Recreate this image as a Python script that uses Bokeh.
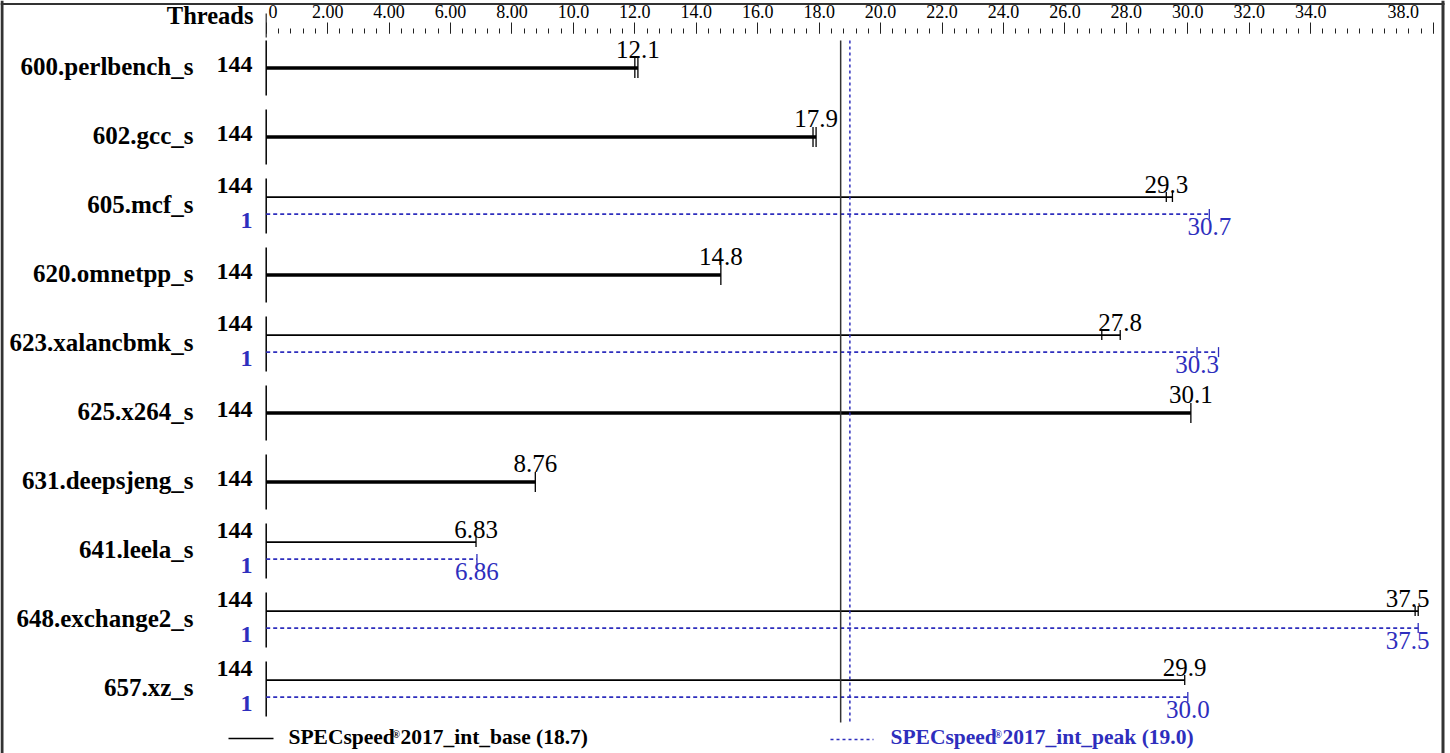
from bokeh.plotting import figure
from bokeh.models import Range1d, LinearAxis, FixedTicker
from bokeh.core.properties import value
from bokeh.embed import file_html
from bokeh.resources import INLINE

# ---------------- data ----------------
benchmarks = ["600.perlbench_s", "602.gcc_s", "605.mcf_s", "620.omnetpp_s",
              "623.xalancbmk_s", "625.x264_s", "631.deepsjeng_s", "641.leela_s",
              "648.exchange2_s", "657.xz_s"]
base_threads = [144, 144, 144, 144, 144, 144, 144, 144, 144, 144]
peak_threads = [None, None, 1, None, 1, None, None, 1, 1, 1]
base_score = [12.1, 17.9, 29.3, 14.8, 27.8, 30.1, 8.76, 6.83, 37.5, 29.9]
base_label = ["12.1", "17.9", "29.3", "14.8", "27.8", "30.1", "8.76", "6.83", "37.5", "29.9"]
peak_score = [None, None, 30.7, None, 30.3, None, None, 6.86, 37.5, 30.0]
peak_label = [None, None, "30.7", None, "30.3", None, None, "6.86", "37.5", "30.0"]
base_runs = [[12.0, 12.1, 12.1], [17.8, 17.9, 17.9], [29.3, 29.3, 29.5],
             [14.8, 14.8, 14.8], [27.2, 27.8, 27.8], [30.1, 30.1, 30.1],
             [8.76, 8.76, 8.76], [6.83, 6.83, 6.83], [37.4, 37.5, 37.5],
             [29.9, 29.9, 29.9]]
peak_runs = [None, None, [30.7, 30.7, 30.7], None, [30.3, 30.3, 31.0], None,
             None, [6.86, 6.86, 6.86], [37.5, 37.5, 37.5], [30.0, 30.0, 30.0]]
base_mean = 18.7
peak_mean = 19.0
base_legend = "2017_int_base (18.7)"
peak_legend = "2017_int_peak (19.0)"
tick_values = [0, 2, 4, 6, 8, 10, 12, 14, 16, 18, 20, 22, 24, 26, 28, 30, 32, 34, 38]
tick_labels = ["0", "2.00", "4.00", "6.00", "8.00", "10.0", "12.0", "14.0", "16.0",
               "18.0", "20.0", "22.0", "24.0", "26.0", "28.0", "30.0", "32.0",
               "34.0", "38.0"]
minor_step = 0.4

# ---------------- layout helpers ----------------
W, H = 1450, 753
X0_PX, PX_PER_UNIT = 265.7, 30.72
ROW0_PX, ROW_PX = 67.6, 69.0
BLUE = "#2e2ebd"
FONT = value("Liberation Serif")
SHIFT = 0.38  # em correction for the renderer's alphabetic baseline
NB = "\u00a0"


def xv(px):
    return (px - X0_PX) / PX_PER_UNIT


def yr(px):
    return (px - ROW0_PX) / ROW_PX


def dy(px):
    return px / ROW_PX


def tb(px_offset, size):
    """row-unit offset for a text baseline px_offset below a row centre"""
    return dy(px_offset - SHIFT * size)


p = figure(width=W, height=H, x_range=Range1d(xv(0), xv(W)),
           y_range=Range1d(yr(H), yr(0)), x_axis_type=None, y_axis_type=None,
           toolbar_location=None, output_backend="svg", min_border=0,
           outline_line_color=None)
p.background_fill_color = "white"
p.border_fill_color = "white"

# top axis (first label sits right of the zero line, last one left of its tick)
shown_labels = list(tick_labels)
shown_labels[0] = NB * 3 + shown_labels[0]
shown_labels[-1] = shown_labels[-1] + NB * 7
minor_vals = [round(k * minor_step, 2) for k in range(int(38 / minor_step) + 1)]
ax = LinearAxis(ticker=FixedTicker(ticks=tick_values, minor_ticks=minor_vals),
                fixed_location=yr(33),
                major_label_overrides={t: l for t, l in zip(tick_values, shown_labels)},
                axis_line_color=None, major_tick_out=11, major_tick_in=0,
                minor_tick_out=5, minor_tick_in=0,
                major_tick_line_color="#222", minor_tick_line_color="#222",
                major_tick_line_width=1, minor_tick_line_width=1,
                major_label_standoff=1, major_label_text_font="Liberation Serif",
                major_label_text_font_size="18px", major_label_text_color="black")
p.add_layout(ax, "above")
p.segment(x0=[0], y0=[yr(13)], x1=[0], y1=[yr(37)], line_color="#222", line_width=1.2)

# frame border
p.segment(x0=[xv(1.5), xv(0), xv(1442.5)], y0=[yr(0), yr(3.5), yr(0)],
          x1=[xv(1.5), xv(1444), xv(1442.5)], y1=[yr(H), yr(3.5), yr(H)],
          line_color="#333", line_width=[3, 2, 3])

# "Threads" header
p.text(x=[xv(253)], y=[yr(24 - SHIFT * 24.5)], text=["Threads"], text_font=FONT,
       text_font_style="bold", text_font_size="24.5px", text_align="right",
       text_baseline="alphabetic", text_color="black")

n = len(benchmarks)
rows = list(range(n))

# per-row axis segments
p.segment(x0=[0] * n, y0=[r - dy(27.5) for r in rows], x1=[0] * n,
          y1=[r + dy(27.5) for r in rows], line_color="black", line_width=1.5)

# benchmark names
p.text(x=[xv(193)] * n, y=[r + tb(8, 25) for r in rows], text=benchmarks, text_font=FONT,
       text_font_style="bold", text_font_size="25px", text_align="right",
       text_baseline="alphabetic", text_color="black")

single = [i for i in rows if peak_score[i] is None]
double = [i for i in rows if peak_score[i] is not None]

# thread counts
tx, ty, tt = [], [], []
for i in rows:
    tx.append(xv(252))
    ty.append(i + (tb(5.5, 24) if i in single else tb(-11, 24)))
    tt.append(str(base_threads[i]))
p.text(x=tx, y=ty, text=tt, text_font=FONT, text_font_style="bold",
       text_font_size="24px", text_align="right", text_baseline="alphabetic",
       text_color="black")
p.text(x=[xv(252)] * len(double), y=[i + tb(24, 24) for i in double],
       text=[str(peak_threads[i]) for i in double], text_font=FONT,
       text_font_style="bold", text_font_size="24px", text_align="right",
       text_baseline="alphabetic", text_color=BLUE)

# single-row bars (base == peak)
p.segment(x0=[0] * len(single), y0=[float(i) for i in single],
          x1=[base_score[i] for i in single], y1=[float(i) for i in single],
          line_color="black", line_width=3.5)
# double rows
p.segment(x0=[0] * len(double), y0=[i - dy(9) for i in double],
          x1=[max(base_runs[i]) for i in double], y1=[i - dy(9) for i in double],
          line_color="black", line_width=1.8)
p.segment(x0=[0] * len(double), y0=[i + dy(8) for i in double],
          x1=[max(peak_runs[i]) for i in double], y1=[i + dy(8) for i in double],
          line_color=BLUE, line_width=1.6, line_dash="4 3")

# run tick marks
bx0, by0, by1 = [], [], []
for i in rows:
    runs = base_runs[i]
    for v in sorted(set([min(runs), max(runs)])):
        bx0.append(v)
        if i in single:
            by0.append(i - dy(10)); by1.append(i + dy(10))
        else:
            by0.append(i - dy(9) - dy(5)); by1.append(i - dy(9) + dy(5))
p.segment(x0=bx0, y0=by0, x1=bx0, y1=by1, line_color="black", line_width=1.3)
px0, py0, py1 = [], [], []
for i in double:
    runs = peak_runs[i]
    for v in sorted(set([min(runs), max(runs)])):
        px0.append(v)
        py0.append(i + dy(8) - dy(5)); py1.append(i + dy(8) + dy(5))
p.segment(x0=px0, y0=py0, x1=px0, y1=py1, line_color=BLUE, line_width=1.3)

# value labels
RIGHT_LIMIT = xv(1407)
lx, ly, lt = [], [], []
for i in rows:
    lx.append(min(base_score[i], RIGHT_LIMIT))
    ly.append(i + (tb(-9, 25) if i in single else tb(-12.5, 25)))
    lt.append(base_label[i])
p.text(x=lx, y=ly, text=lt, text_font=FONT, text_font_size="25px",
       text_align="center", text_baseline="alphabetic", text_color="black")
p.text(x=[min(peak_score[i], RIGHT_LIMIT) for i in double],
       y=[i + tb(30, 25) for i in double], text=[peak_label[i] for i in double],
       text_font=FONT, text_font_size="25px", text_align="center",
       text_baseline="alphabetic", text_color=BLUE)

# mean lines
p.segment(x0=[base_mean], y0=[yr(40)], x1=[base_mean], y1=[yr(722)],
          line_color="#333", line_width=1.5)
p.segment(x0=[peak_mean], y0=[yr(40)], x1=[peak_mean], y1=[yr(722)],
          line_color=BLUE, line_width=1.5, line_dash="3 3")

# legend
p.segment(x0=[xv(228)], y0=[yr(738)], x1=[xv(273)], y1=[yr(738)],
          line_color="black", line_width=1.3)
p.segment(x0=[xv(830)], y0=[yr(739)], x1=[xv(873)], y1=[yr(739)],
          line_color=BLUE, line_width=1.3, line_dash="3 3")
LEG = 21.5
for x_px, col, rest in [(288, "black", base_legend), (890, BLUE, peak_legend)]:
    p.text(x=[xv(x_px)], y=[yr(745 - SHIFT * LEG)], text=["SPECspeed"], text_font=FONT,
           text_font_style="bold", text_font_size=f"{LEG}px", text_align="left",
           text_baseline="alphabetic", text_color=col)
    p.text(x=[xv(x_px + 104)], y=[yr(738 - SHIFT * 10)], text=["\u00ae"], text_font=FONT,
           text_font_style="bold", text_font_size="10px", text_align="left",
           text_baseline="alphabetic", text_color=col)
    p.text(x=[xv(x_px + 112)], y=[yr(745 - SHIFT * LEG)], text=[rest], text_font=FONT,
           text_font_style="bold", text_font_size=f"{LEG}px", text_align="left",
           text_baseline="alphabetic", text_color=col)

html = file_html(p, INLINE)
html = html.replace("<head>", "<head><style>html,body{margin:0;padding:0;overflow:hidden;}</style>", 1)
open("out.html", "w").write(html)
